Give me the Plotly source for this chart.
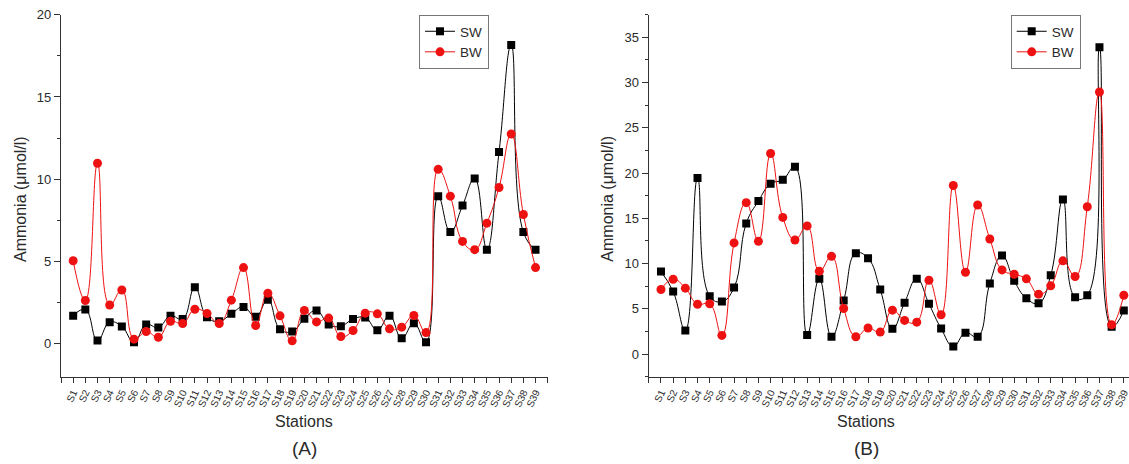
import plotly.graph_objects as go

W, H = 1129, 464

stations = [f"S{i}" for i in range(1, 40)]
xpos = list(range(1, 40))

sw_a = [1.7, 2.08, 0.2, 1.31, 1.05, 0.1, 1.17, 0.99, 1.7, 1.5,
        3.43, 1.62, 1.37, 1.82, 2.24, 1.64, 2.67, 0.89, 0.75, 1.52,
        2.02, 1.17, 1.07, 1.5, 1.6, 0.83, 1.7, 0.34, 1.25, 0.1,
        8.97, 6.79, 8.4, 10.04, 5.72, 11.65, 18.16, 6.79, 5.72]
bw_a = [5.05, 2.63, 10.97, 2.36, 3.27, 0.28, 0.75, 0.4, 1.37, 1.23,
        2.1, 1.84, 1.23, 2.65, 4.63, 1.11, 3.07, 1.7, 0.18, 2.02,
        1.33, 1.56, 0.44, 0.81, 1.86, 1.82, 0.91, 1.01, 1.72, 0.68,
        10.6, 8.97, 6.22, 5.72, 7.33, 9.5, 12.75, 7.86, 4.63]

sw_b = [9.12, 6.91, 2.61, 19.45, 6.4, 5.81, 7.35, 14.44, 16.91, 18.82,
        19.26, 20.69, 2.1, 8.31, 1.92, 5.92, 11.14, 10.58, 7.13, 2.8,
        5.67, 8.31, 5.56, 2.83, 0.85, 2.36, 1.92, 7.8, 10.88, 8.09,
        6.17, 5.62, 8.71, 17.09, 6.28, 6.5, 33.89, 3.02, 4.82]
bw_b = [7.13, 8.27, 7.28, 5.51, 5.56, 2.06, 12.28, 16.73, 12.46, 22.16,
        15.1, 12.61, 14.16, 9.15, 10.8, 5.04, 1.92, 2.88, 2.43, 4.85,
        3.72, 3.53, 8.16, 4.34, 18.63, 9.04, 16.47, 12.72, 9.3, 8.82,
        8.31, 6.62, 7.54, 10.3, 8.57, 16.28, 28.96, 3.24, 6.5]

FONT = "Liberation Sans, Arial, sans-serif"
TXT = "#2a2a2a"
AX = "#333333"


def px(x):
    return x / W


def py(y):
    return 1 - y / H


fig = go.Figure()


def add_pair(sw, bw, xa, ya, leg):
    fig.add_trace(go.Scatter(
        x=xpos, y=sw, name="SW", mode="lines+markers",
        line=dict(color="black", width=1, shape="spline", smoothing=1.3),
        marker=dict(symbol="square", size=8, color="black"),
        xaxis=xa, yaxis=ya, legend=leg))
    fig.add_trace(go.Scatter(
        x=xpos, y=bw, name="BW", mode="lines+markers",
        line=dict(color="#ee1111", width=1, shape="spline", smoothing=1.3),
        marker=dict(symbol="circle", size=9, color="#ee1111"),
        xaxis=xa, yaxis=ya, legend=leg))


add_pair(sw_a, bw_a, "x", "y", "legend")
add_pair(sw_b, bw_b, "x2", "y2", "legend2")

ydom = [py(376.7), py(14.7)]

xcommon = dict(
    tickmode="array", tickvals=xpos, ticktext=stations, tickangle=-65,
    ticks="outside", ticklen=5, tickwidth=1, tickcolor=AX,
    showline=True, linecolor=AX, linewidth=1.3, showgrid=False,
    zeroline=False, automargin=False, ticklabeloverflow="allow",
    tickfont=dict(family=FONT, size=10, color=TXT),
    minor=dict(ticks="outside", ticklen=5, tickwidth=1, tickcolor=AX,
               tick0=0, dtick=1, showgrid=False),
)
ycommon = dict(
    ticks="outside", ticklen=6, tickwidth=1, tickcolor=AX,
    showline=True, linecolor=AX, linewidth=1.3, showgrid=False,
    zeroline=False, automargin=False, tick0=0, dtick=5,
    tickfont=dict(family=FONT, size=13, color=TXT),
    minor=dict(ticks="outside", ticklen=3, tickwidth=1, tickcolor=AX,
               tick0=0, dtick=2.5, showgrid=False),
)

legcommon = dict(
    xanchor="left", yanchor="top",
    bordercolor="#777777", borderwidth=1, bgcolor="white",
    font=dict(family=FONT, size=13.5, color=TXT),
    tracegroupgap=0, itemwidth=30,
)

fig.update_layout(
    width=W, height=H,
    margin=dict(l=0, r=0, t=0, b=0),
    paper_bgcolor="white", plot_bgcolor="white",
    template="none",
    xaxis=dict(domain=[px(61), px(547.7)], range=[0, 40], anchor="y", **xcommon),
    yaxis=dict(domain=ydom, range=[-2, 20], anchor="x", **ycommon),
    xaxis2=dict(domain=[px(648.8), 1.0], range=[0, (1129 - 648.8) / 12.18],
                anchor="y2", **xcommon),
    yaxis2=dict(domain=ydom, range=[-2.5, 37.5], anchor="x2", **ycommon),
    legend=dict(x=px(419), y=py(15), **legcommon),
    legend2=dict(x=px(1010.7), y=py(15), **legcommon),
    showlegend=True,
)

ann_font = dict(family=FONT, size=16, color=TXT)
for xc, lab in [(304, "(A)"), (866, "(B)")]:
    fig.add_annotation(x=px(xc), y=py(421), xref="paper", yref="paper",
                       text="Stations", showarrow=False, font=ann_font,
                       xanchor="center", yanchor="middle")
    fig.add_annotation(x=px(xc), y=py(448), xref="paper", yref="paper",
                       text=lab, showarrow=False,
                       font=dict(family=FONT, size=19, color=TXT),
                       xanchor="center", yanchor="middle")
for xc in [20, 606.7]:
    fig.add_annotation(x=px(xc), y=py(199), xref="paper", yref="paper",
                       text="Ammonia (μmol/l)", showarrow=False, textangle=-90,
                       font=ann_font, xanchor="center", yanchor="middle")

fig.write_html("out.html")
